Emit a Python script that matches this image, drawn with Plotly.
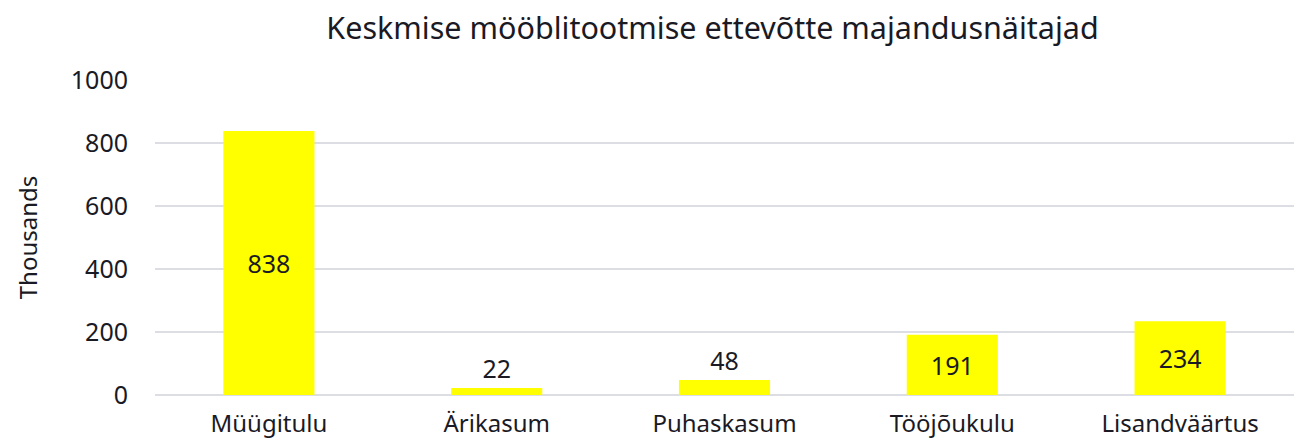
import plotly.graph_objects as go

categories = ["Müügitulu", "Ärikasum", "Puhaskasum", "Tööjõukulu", "Lisandväärtus"]
values = [838, 22, 48, 191, 234]
y_ticks = [0, 200, 400, 600, 800, 1000]
title_text = "Keskmise mööblitootmise ettevõtte majandusnäitajad"
y_title = "Thousands"

FONT = "Noto Sans"
TXT = "#1a1a24"

fig = go.Figure(go.Bar(
    x=categories, y=values,
    marker=dict(color="#ffff00", line=dict(width=0)),
    text=[str(v) for v in values],
    textposition="auto",
    insidetextanchor="middle",
    textfont=dict(family=FONT, size=25, color=TXT),
    cliponaxis=False,
))

fig.update_layout(
    width=1295, height=441,
    margin=dict(l=155, r=1, t=80, b=46),
    paper_bgcolor="white", plot_bgcolor="white",
    bargap=0.6,
    showlegend=False,
    title=dict(text=title_text, x=0.4895, xref="paper", xanchor="center",
               y=1 - 28 / 441, yref="container", yanchor="middle",
               font=dict(family=FONT, size=30.5, color=TXT)),
    font=dict(family=FONT, color=TXT),
)
fig.update_xaxes(
    showgrid=False, showline=False, zeroline=False, automargin=False,
    ticks="", tickfont=dict(family=FONT, size=24, color=TXT),
    ticklabelstandoff=12,
)
fig.update_yaxes(
    range=[0, 1000], tickvals=y_ticks, automargin=False,
    showgrid=True, gridcolor="#dddde4", gridwidth=2,
    zeroline=True, zerolinecolor="#dddde4", zerolinewidth=2,
    showline=False, ticks="",
    tickfont=dict(family=FONT, size=25, color=TXT),
    ticklabelstandoff=26,
    title=dict(text=y_title, font=dict(family=FONT, size=24, color=TXT), standoff=26),
)

fig.write_html("out.html", config={"displayModeBar": False},
               post_script="document.body.style.margin='0';document.body.style.overflow='hidden';")
